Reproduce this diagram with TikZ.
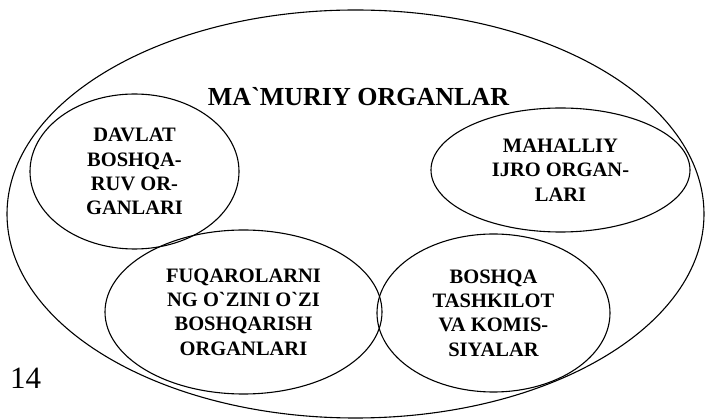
\documentclass[tikz,border=0pt]{standalone}
\usepackage{fontspec}
\newfontfamily\timesfont{Liberation Serif}
\usetikzlibrary{shapes.geometric}

\newcommand\grv{\char"60\relax}

\tikzset{
organ/.style={draw, ellipse, line width=1.1pt, inner sep=0pt, align=center,
  font=\timesfont\bfseries\fontsize{20.5}{24.3}\selectfont}
}

\begin{document}
\begin{tikzpicture}[x=1pt,y=-1pt]

\useasboundingbox (0,0) rectangle (705,419);

\node[organ, minimum width=697, minimum height=408] (organlar) at (355.5,214) {};

\node[font=\timesfont\bfseries\fontsize{26}{30}\selectfont, inner sep=0pt, anchor=base] (title) at (358.5,106) {MA\grv MURIY ORGANLAR};

\node[organ, minimum width=209, minimum height=155] (davlat) at (134.5,171.5) {DAVLAT\\BOSHQA-\\RUV OR-\\GANLARI};
\node[organ, minimum width=259, minimum height=124] (mahalliy) at (560.5,170) {MAHALLIY\\IJRO ORGAN-\\LARI};
\node[organ, minimum width=277, minimum height=164] (fuqaro) at (243.5,312) {FUQAROLARNI\\NG O\grv ZINI O\grv ZI\\BOSHQARISH\\ORGANLARI};
\node[organ, minimum width=233, minimum height=158] (boshqa) at (493.5,313) {BOSHQA\\TASHKILOT\\VA KOMIS-\\SIYALAR};

\node[font=\timesfont\fontsize{31}{36}\selectfont, inner sep=0pt, anchor=base west] (page) at (10,389) {14};

\end{tikzpicture}
\end{document}
